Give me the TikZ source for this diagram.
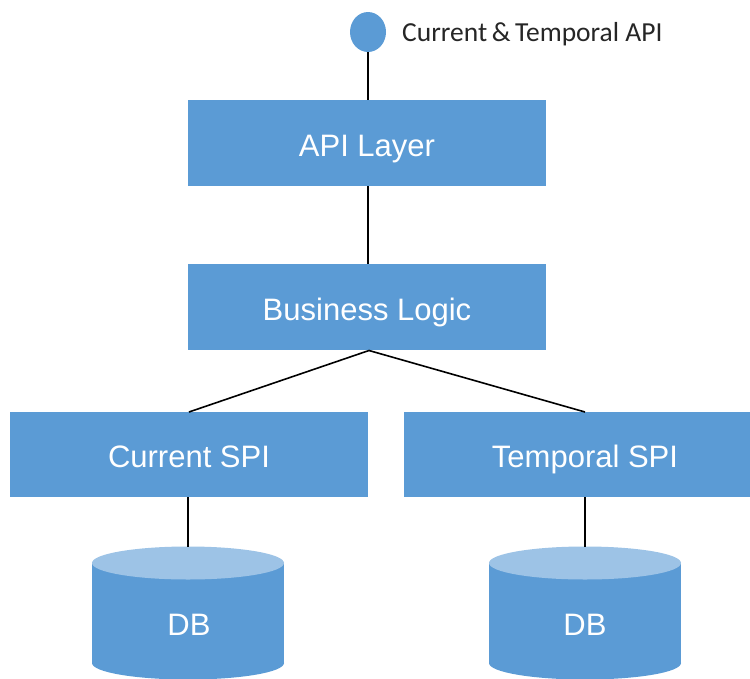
\documentclass[tikz,border=0pt]{standalone}
\usepackage{fontspec}
\setmainfont{Liberation Sans}
\newfontfamily\labelfont{Carlito}
\usetikzlibrary{shapes.geometric}
\definecolor{boxblue}{HTML}{5B9BD5}
\definecolor{toplight}{HTML}{9DC3E6}
\tikzset{
  layerbox/.style={draw=none, fill=boxblue, text=white, minimum width=358pt, minimum height=86pt, inner sep=0pt, text height=26pt, text depth=0pt, font=\fontsize{31}{36}\selectfont},
  conn/.style={draw=black, line width=1.6pt},
  dbtext/.style={text=white, font=\fontsize{31}{36}\selectfont, inner sep=0pt},
}
\begin{document}
\begin{tikzpicture}[x=1pt,y=-1pt]
\useasboundingbox (0,0) rectangle (750,678);
\clip (0,0) rectangle (750,678);
% nodes
\node[ellipse, fill=boxblue, minimum width=36pt, minimum height=40pt, inner sep=0pt] (ifc) at (368,32) {};
\node[anchor=base west, inner sep=0pt, text=black!85, font=\labelfont\fontsize{27.5}{32}\selectfont] (ifclabel) at (402,41.5) {Current\,\&\,Temporal API};
\node[layerbox] (apil) at (367,143) {API Layer};
\node[layerbox] (bl) at (367,307) {Business Logic};
\node[layerbox, minimum height=85pt] (cspi) at (189,454.5) {Current SPI};
\node[layerbox, minimum height=85pt, minimum width=362pt] (tspi) at (585,454.5) {Temporal SPI};
% cylinders
\foreach \cx/\nm in {188/dba, 585/dbb}{
  \fill[boxblue] (\cx-96,563) rectangle (\cx+96,663);
  \fill[boxblue] (\cx,663) ellipse [x radius=96, y radius=16.5];
  \fill[toplight] (\cx,563) ellipse [x radius=96, y radius=16.5];
  \coordinate (\nm top) at (\cx,546.5);
}
\node[dbtext] (dba) at (189,624.5) {DB};
\node[dbtext] (dbb) at (585,624.5) {DB};
% connectors
\draw[conn] (ifc.south) -- (ifc.south |- apil.north);
\draw[conn] (apil.south -| ifc.south) -- (bl.north -| ifc.south);
\coordinate (blb) at (369,350.5);
\draw[conn] (blb) -- (189,412);
\draw[conn] (blb) -- (585,412);
\draw[conn] (cspi.south -| dbatop) -- (dbatop);
\draw[conn] (tspi.south -| dbbtop) -- (dbbtop);
\end{tikzpicture}
\end{document}
